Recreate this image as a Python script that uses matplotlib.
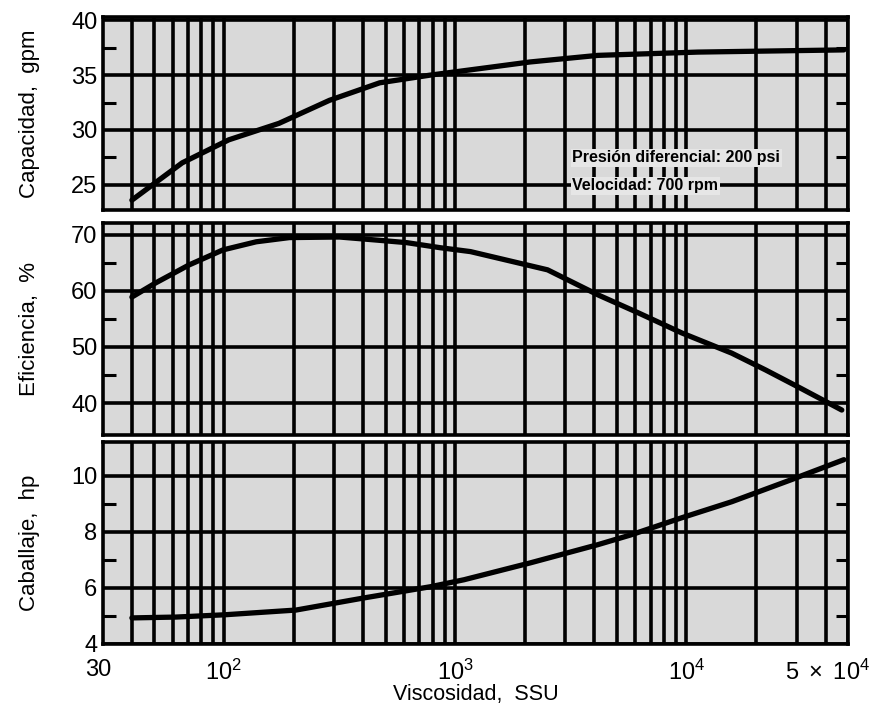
import numpy as np
import matplotlib
matplotlib.use("Agg")
import matplotlib.pyplot as plt
from matplotlib.ticker import FixedLocator
from matplotlib.transforms import ScaledTranslation

plt.rcParams['font.family'] = ['Liberation Sans', 'DejaVu Sans']
plt.rcParams['mathtext.fontset'] = 'custom'
plt.rcParams['mathtext.rm'] = 'Liberation Sans'
plt.rcParams['mathtext.it'] = 'Liberation Sans'

# ---- data ----
ssu_cap = [40, 66, 105, 173, 286, 472, 780, 1285, 2110, 4140, 11200, 48000]
capacidad = [23.6, 27.0, 29.1, 30.6, 32.7, 34.3, 35.0, 35.6, 36.2, 36.8, 37.1, 37.3]

ssu_ef = [40, 50.6, 70.5, 99, 138, 192, 316, 444, 617, 860, 1165, 2510, 4140, 6180, 9550, 15700, 22000, 31000, 47000]
eficiencia = [58.9, 61.4, 64.6, 67.3, 68.75, 69.5, 69.6, 69.1, 68.6, 67.7, 67.0, 63.75, 59.3, 56.1, 52.5, 48.9, 45.9, 42.7, 38.75]

ssu_hp = [40, 62, 100, 205, 402, 780, 1092, 2110, 4140, 5760, 9550, 15700, 28500, 48000]
caballaje = [4.93, 4.96, 5.04, 5.21, 5.64, 6.04, 6.29, 6.89, 7.54, 7.89, 8.5, 9.07, 9.86, 10.57]

x_ticks = [30, 100, 1000, 10000, 50000]
x_ticklabels = ['30', r'$10^2$', r'$10^3$', r'$10^4$', r'$5\ \times\ 10^4$']

cap_ticks = [25, 30, 35, 40]
ef_ticks = [40, 50, 60, 70]
hp_ticks = [4, 6, 8, 10]
cap_minor = [27.5, 32.5, 37.5]
ef_minor = [45, 55, 65]
hp_minor = [5, 7, 9]

annot1 = 'Presión diferencial: 200 psi'
annot2 = 'Velocidad: 700 rpm'

# ---- figure ----
W, H = 878, 711
fig = plt.figure(figsize=(W / 100, H / 100), dpi=100)
fig.patch.set_facecolor('white')

def frac_rect(top_px, bot_px, left_px=103, right_px=848):
    return [left_px / W, 1 - bot_px / H, (right_px - left_px) / W, (bot_px - top_px) / H]

ax_top = fig.add_axes(frac_rect(17, 210))
ax_mid = fig.add_axes(frac_rect(223, 435))
ax_bot = fig.add_axes(frac_rect(442, 644))

# vertical grid positions (log minor lines)
vgrid = []
for dec in [10, 100, 1000, 10000]:
    for m in range(1, 10):
        v = m * dec
        if 30 < v <= 50000:
            vgrid.append(v)

panels = [
    (ax_top, ssu_cap, capacidad, (22.7, 40.3), cap_ticks, cap_minor, 'Capacidad,  gpm'),
    (ax_mid, ssu_ef, eficiencia, (34.3, 72.1), ef_ticks, ef_minor, 'Eficiencia,  %'),
    (ax_bot, ssu_hp, caballaje, (4.0, 11.2), hp_ticks, hp_minor, 'Caballaje,  hp'),
]

for ax, xs, ys, ylim, yt, ymin, lab in panels:
    ax.set_facecolor('#d9d9d9')
    ax.set_xscale('log')
    ax.set_xlim(30, 50000)
    ax.set_ylim(*ylim)
    for v in vgrid:
        ax.axvline(v, color='black', lw=2.6, zorder=1)
    for t in yt:
        ax.axhline(t, color='black', lw=2.6, zorder=1)
    ax.plot(xs, ys, color='black', lw=3.8, solid_capstyle='round', zorder=3)
    ax.yaxis.set_major_locator(FixedLocator(yt))
    ax.yaxis.set_minor_locator(FixedLocator(ymin))
    ax.xaxis.set_major_locator(FixedLocator(x_ticks))
    ax.xaxis.set_minor_locator(FixedLocator([]))
    ax.tick_params(axis='y', which='major', length=0, labelsize=17, pad=4)
    ax.tick_params(axis='y', which='minor', direction='in', length=9, width=2.2,
                   left=True, right=True)
    ax.tick_params(axis='x', which='major', length=0)
    for s in ax.spines.values():
        s.set_linewidth(2.6)
        s.set_zorder(4)
    ax.set_ylabel(lab, fontsize=16)
    ax.yaxis.set_label_coords(-0.085, 0.5)

for ax in (ax_top, ax_mid):
    ax.set_xticklabels([])

ax_bot.set_xticklabels(x_ticklabels)
ax_bot.tick_params(axis='x', labelsize=17, pad=11)
ax_bot.set_xlabel('Viscosidad,  SSU', fontsize=15.5, labelpad=0)
labs = ax_bot.get_xticklabels()
labs[-1].set_transform(labs[-1].get_transform() + ScaledTranslation(-0.2, 0, fig.dpi_scale_trans))
labs[0].set_transform(labs[0].get_transform() + ScaledTranslation(-0.05, 0, fig.dpi_scale_trans))

bb = dict(facecolor='#e6e6e6', edgecolor='none', pad=1.0)
ax_top.text(0.63, 0.27, annot1, transform=ax_top.transAxes, fontsize=11.5,
            fontweight='bold', va='center', ha='left', zorder=5, bbox=bb)
ax_top.text(0.63, 0.125, annot2, transform=ax_top.transAxes, fontsize=11.5,
            fontweight='bold', va='center', ha='left', zorder=5, bbox=bb)

fig.savefig('out.png', dpi=100, facecolor='white')
